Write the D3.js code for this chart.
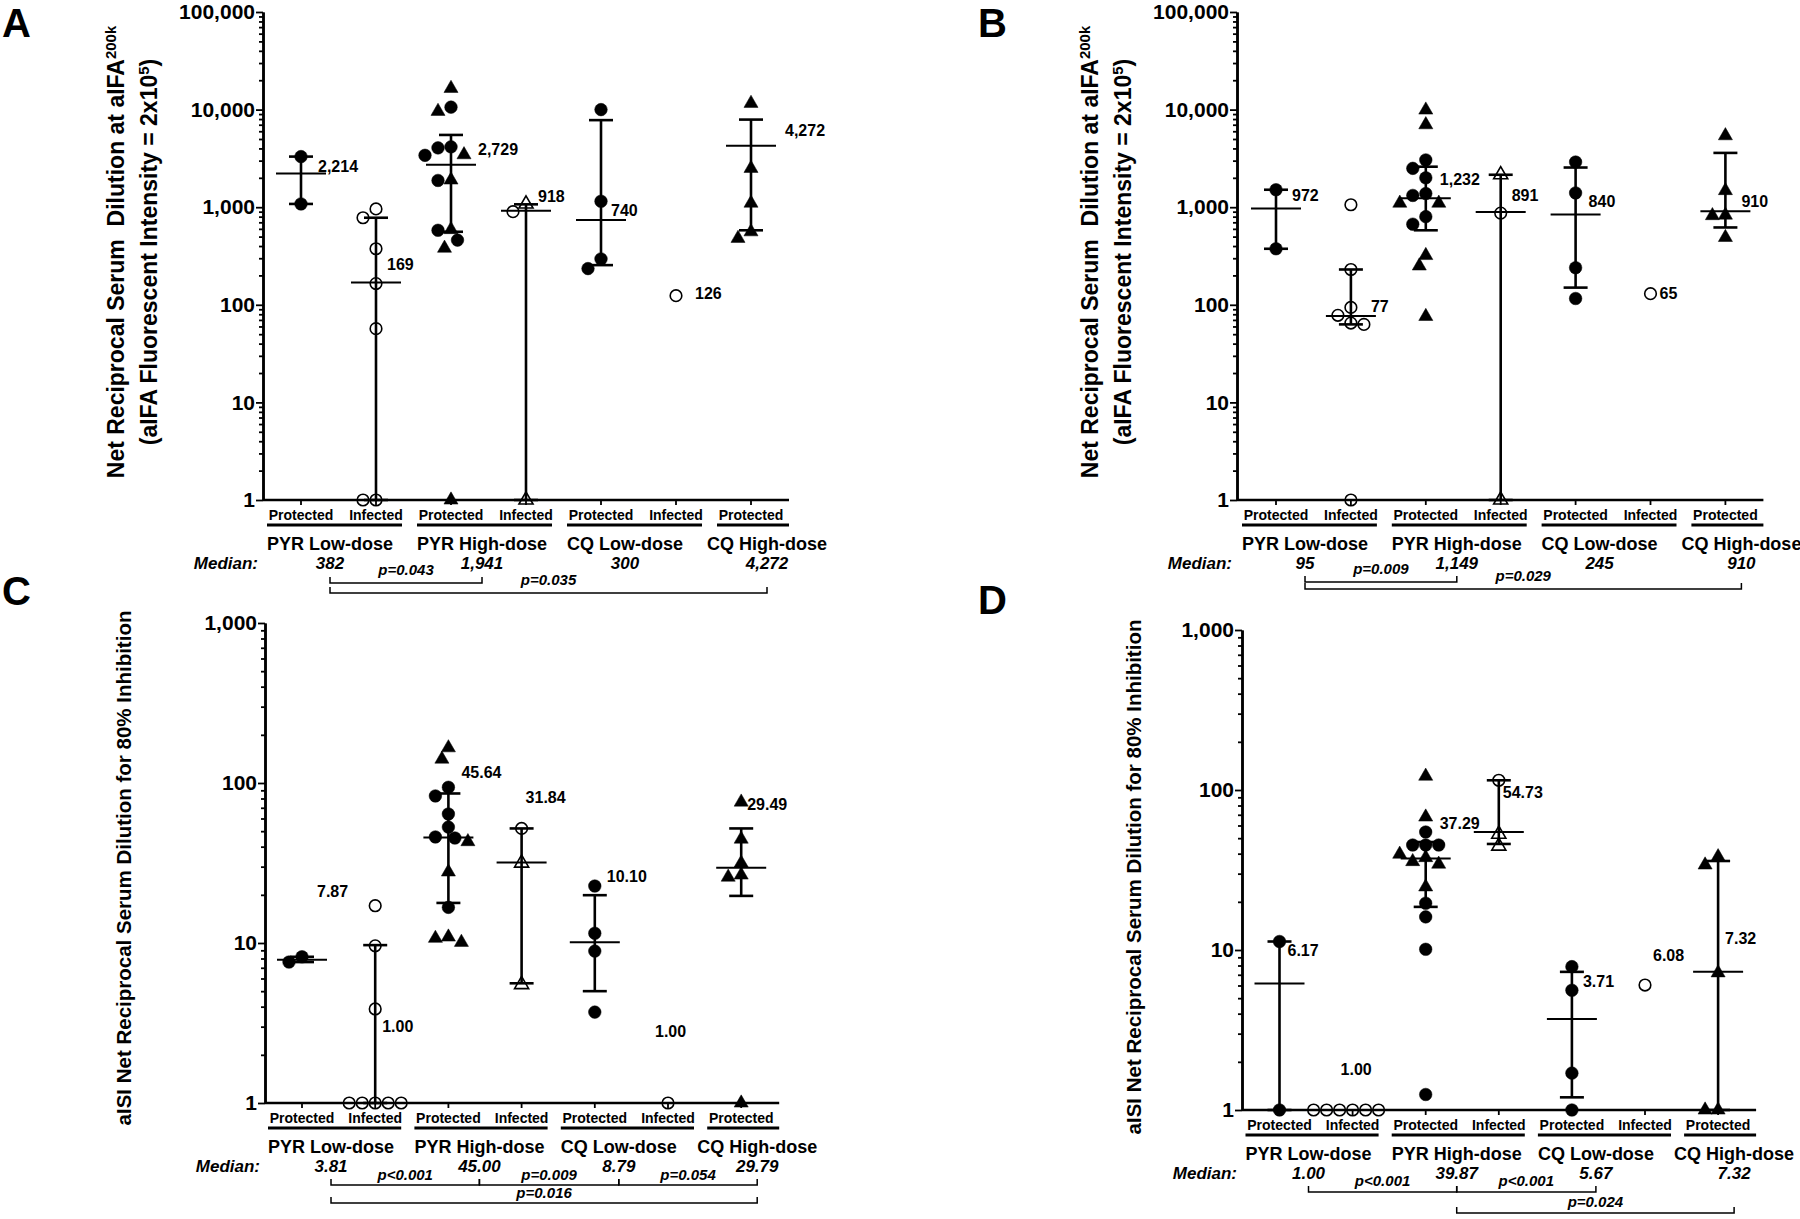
<!DOCTYPE html>
<html>
<head>
<meta charset="utf-8">
<script src="https://cdn.jsdelivr.net/npm/d3@7"></script>
<style>
  body { margin: 0; background: #fff; }
  svg { font-family: "Liberation Sans", Arial, sans-serif; font-weight: bold; }
</style>
</head>
<body>
<script>
// categories shared by the four panels
var categories = ["Protected", "Infected", "Protected", "Infected", "Protected", "Infected", "Protected"];
var groupNames = ["PYR Low-dose", "PYR High-dose", "CQ Low-dose", "CQ High-dose"];
var groupCats = [[0, 1], [2, 3], [4, 5], [6]];

// ---- panel A : aIFA, reciprocal dilution ----
var circlesA = [[3300, 1080], [960, 780, 375, 165, 57, 1, 1], [10600, 4150, 4050, 3400, 1880, 580, 460], [900], [10000, 1150, 295, 235], [124], []];
var trianglesA = [[], [], [16500, 9600, 3450, 1900, 590, 380, 1], [1080, 1], [], [], [11600, 2500, 1100, 560, 480]];
var medianA = [2214, 169, 2729, 918, 740, null, 4272];
var highA = [3300, 780, 5500, 1070, 7800, null, 7900];
var lowA = [1080, 1, 560, 1, 255, null, 580];
var labelA = ["2,214", "169", "2,729", "918", "740", "126", "4,272"];
var labelAtA = [2640, 260, 3900, 1290, 920, 131, 6120];
var labelDxA = [17, 11, 27, 12, 10, 19, 34];
var groupMedianA = ["382", "1,941", "300", "4,272"];
var pvalA = [[0, 1, "p=0.043", 1], [0, 3, "p=0.035", 2]];

// ---- panel B ----
var circlesB = [[1510, 375], [1060, 230, 94, 78, 65, 63, 1], [3050, 2500, 2000, 1380, 1320, 800, 670], [870], [2900, 1400, 240, 116], [130], []];
var trianglesB = [[], [], [9900, 7000, 1100, 1100, 320, 250, 76], [2150, 1], [], [], [5400, 1480, 830, 820, 490]];
var medianB = [972, 77, 1232, 891, 840, null, 910];
var highB = [1510, 230, 2600, 2150, 2550, null, 3600];
var lowB = [375, 63, 580, 1, 150, null, 620];
var labelB = ["972", "77", "1,232", "891", "840", "65", "910"];
var labelAtB = [1310, 96, 1930, 1310, 1156, 130, 1156];
var labelDxB = [16, 20, 14, 11, 13, 9, 16];
var groupMedianB = ["95", "1,149", "245", "910"];
var pvalB = [[0, 1, "p=0.009", 1], [0, 3, "p=0.029", 2]];

// ---- panel C : aISI 80% inhibition ----
var circlesC = [[8.2, 7.6], [17.1, 9.6, 3.87, 1, 1, 1, 1, 1], [94, 83, 64, 53, 46, 45.3, 16.7], [52], [22.7, 11.5, 8.9, 3.7], [1], []];
var trianglesC = [[], [], [166, 141, 43, 27.8, 10.9, 10.7, 10.1], [31.6, 5.5], [], [], [76, 44.6, 31.6, 26.6, 25.8, 1]];
var medianC = [7.87, 1, 45.64, 31.84, 10.10, null, 29.49];
var highC = [8.2, 9.7, 86, 52, 19.9, null, 52];
var lowC = [7.6, 1, 17.8, 5.6, 5.0, null, 19.7];
var labelC = ["7.87", "1.00", "45.64", "31.84", "10.10", "1.00", "29.49"];
var labelAtC = [21, 3.0, 117, 81, 26, 2.8, 74];
var labelDxC = [15, 7, 13, 4, 12, -13, 6];
var groupMedianC = ["3.81", "45.00", "8.79", "29.79"];
var pvalC = [[0, 1, "p<0.001", 1], [1, 2, "p=0.009", 1], [2, 3, "p=0.054", 1], [0, 3, "p=0.016", 2]];

// ---- panel D ----
var circlesD = [[11.3, 1], [1, 1, 1, 1, 1, 1], [54.6, 45.3, 45.3, 45.3, 19.6, 16.1, 10.1, 1.25], [115], [7.87, 5.6, 1.7, 1], [6.04], []];
var trianglesD = [[], [], [122, 67.8, 39.7, 37.8, 35.7, 34.4, 24.8], [53, 44.6], [], [], [38.3, 34, 7.2, 1, 1]];
var medianD = [6.17, 1, 37.29, 54.73, 3.71, null, 7.32];
var highD = [11.3, null, 47.3, 115, 7.3, null, 36];
var lowD = [1, null, 18.6, 46, 1.2, null, 1];
var labelD = ["6.17", "1.00", "37.29", "54.73", "3.71", "6.08", "7.32"];
var labelAtD = [10, 1.8, 62, 96, 6.4, 9.3, 11.9];
var labelDxD = [8, -12, 14, 4, 11, 8, 7];
var groupMedianD = ["1.00", "39.87", "5.67", "7.32"];
var pvalD = [[0, 1, "p<0.001", 1], [1, 2, "p<0.001", 1], [1, 3, "p=0.024", 2]];

var svg = d3.select("body").append("svg")
    .attr("width", 1800)
    .attr("height", 1219);

var tri = d3.symbol().type(d3.symbolTriangle).size(86);
var S = 13; // minimum distance between markers in a column

// simple beeswarm : each point takes the nearest free horizontal slot
function swarm(points, y) {
    var placed = [];
    points.slice().sort(function(a, b) { return b.v - a.v; }).forEach(function(p) {
        var py = y(p.v);
        for (var k = 0; k < 40; k++) {
            var m = Math.ceil(k / 2);
            var off = (k % 2 === 1 ? -m : m) * S / 2;
            var ok = placed.every(function(q) { return Math.hypot(q.dx - off, q.py - py) >= S * 0.92; });
            if (ok) { placed.push({v: p.v, shape: p.shape, dx: off, py: py}); break; }
        }
    });
    return placed;
}

function drawPanel(cfg) {
    var g = svg.append("g");
    var y = d3.scaleLog().domain([1, cfg.yMax]).range([cfg.yBottom, cfg.yTop]);
    var x = d3.scaleLinear().domain([0, 6]).range([cfg.x0, cfg.x0 + 6 * cfg.step]);
    var xEnd = x(6) + 38;

    // y axis, majors and minors
    var decades = d3.range(0, Math.round(Math.log10(cfg.yMax)) + 1).map(function(e) { return Math.pow(10, e); });
    var minors = [];
    decades.slice(0, -1).forEach(function(d) { for (var k = 2; k < 10; k++) minors.push(d * k); });

    var minorAxis = g.append("g").attr("transform", "translate(" + cfg.axisX + ",0)")
        .call(d3.axisLeft(y).tickValues(minors).tickSize(4).tickSizeOuter(0).tickFormat(""));
    var majorAxis = g.append("g").attr("transform", "translate(" + cfg.axisX + ",0)")
        .call(d3.axisLeft(y).tickValues(decades).tickSize(7).tickSizeOuter(0).tickPadding(1).tickFormat(d3.format(",")));
    [minorAxis, majorAxis].forEach(function(a) {
        a.attr("font-family", null).attr("font-size", 21);
        a.select(".domain").attr("stroke-width", 2.5);
        a.selectAll(".tick line").attr("stroke-width", 1.8);
    });
    majorAxis.selectAll("text").attr("font-weight", "bold").attr("fill", "#000");

    // x axis
    g.append("line").attr("x1", cfg.axisX).attr("x2", xEnd)
        .attr("y1", cfg.yBottom).attr("y2", cfg.yBottom)
        .attr("stroke", "#000").attr("stroke-width", 2.5);
    g.selectAll(".xtick").data(categories).enter().append("line")
        .attr("x1", function(d, i) { return x(i); }).attr("x2", function(d, i) { return x(i); })
        .attr("y1", cfg.yBottom).attr("y2", cfg.yBottom + 5)
        .attr("stroke", "#000").attr("stroke-width", 1.8);
    g.selectAll(".xlab").data(categories).enter().append("text")
        .attr("x", function(d, i) { return x(i); })
        .attr("y", cfg.yBottom + 20)
        .attr("text-anchor", "middle").attr("font-size", 14)
        .text(function(d) { return d; });

    // points
    for (var i = 0; i < 7; i++) {
        var open = categories[i] === "Infected";
        var pts = cfg.circles[i].map(function(v) { return {v: v, shape: "c"}; })
            .concat(cfg.triangles[i].map(function(v) { return {v: v, shape: "t"}; }));
        var cx = x(i);
        swarm(pts, y).forEach(function(p) {
            if (p.shape === "c") {
                g.append("circle").attr("cx", cx + p.dx).attr("cy", p.py).attr("r", open ? 5.8 : 6.3)
                    .attr("fill", open ? "none" : "#000").attr("stroke", "#000").attr("stroke-width", open ? 1.6 : 0.5);
            } else {
                g.append("path").attr("d", tri).attr("transform", "translate(" + (cx + p.dx) + "," + p.py + ")")
                    .attr("fill", open ? "none" : "#000").attr("stroke", "#000").attr("stroke-width", open ? 1.6 : 0.5);
            }
        });

        // median with range
        if (cfg.median[i] != null) {
            g.append("line").attr("x1", cx - 25).attr("x2", cx + 25)
                .attr("y1", y(cfg.median[i])).attr("y2", y(cfg.median[i]))
                .attr("stroke", "#000").attr("stroke-width", 2);
        }
        if (cfg.high[i] != null) {
            g.append("line").attr("x1", cx).attr("x2", cx)
                .attr("y1", y(cfg.high[i])).attr("y2", y(cfg.low[i]))
                .attr("stroke", "#000").attr("stroke-width", 2.6);
            [cfg.high[i], cfg.low[i]].forEach(function(v) {
                g.append("line").attr("x1", cx - 12).attr("x2", cx + 12)
                    .attr("y1", y(v)).attr("y2", y(v))
                    .attr("stroke", "#000").attr("stroke-width", 2.6);
            });
        }

        g.append("text").attr("x", cx + cfg.labelDx[i]).attr("y", y(cfg.labelAt[i]))
            .attr("dy", "0.35em").attr("font-size", 16).text(cfg.labels[i]);
    }

    // group bars and names
    var centers = [];
    groupCats.forEach(function(cs, gi) {
        var first = cs[0], last = cs[cs.length - 1];
        var x1 = x(first) - 34;
        var x2 = categories[last] === "Infected" ? x(last) + 26 : xEnd;
        g.append("line").attr("x1", x1).attr("x2", x2)
            .attr("y1", cfg.yBottom + 25).attr("y2", cfg.yBottom + 25)
            .attr("stroke", "#000").attr("stroke-width", 3);
        var tx = gi === 3 ? x1 - 10 : x1;
        var t = g.append("text").attr("x", tx).attr("y", cfg.yBottom + 50)
            .attr("font-size", 18).text(groupNames[gi]);
        centers.push(tx + t.node().getComputedTextLength() / 2);
    });

    // median row
    g.append("text").attr("x", cfg.axisX - 5).attr("y", cfg.yBottom + 69)
        .attr("text-anchor", "end").attr("font-size", 17).attr("font-style", "italic")
        .text("Median:");
    cfg.groupMedian.forEach(function(m, gi) {
        g.append("text").attr("x", centers[gi]).attr("y", cfg.yBottom + 69)
            .attr("text-anchor", "middle").attr("font-size", 17).attr("font-style", "italic")
            .text(m);
    });

    // comparison brackets
    cfg.pvals.forEach(function(p) {
        var yb = cfg.yBottom + cfg.bracketY[p[3] - 1];
        var xa = centers[p[0]], xb = centers[p[1]];
        g.append("path").attr("d", "M" + xa + "," + (yb - 6) + "V" + yb + "H" + xb + "V" + (yb - 6))
            .attr("fill", "none").attr("stroke", "#000").attr("stroke-width", 1.5);
        g.append("text").attr("x", (xa + xb) / 2).attr("y", yb + cfg.pDy)
            .attr("dy", "0.35em").attr("text-anchor", "middle")
            .attr("font-size", 15).attr("font-style", "italic").text(p[2]);
    });

    // axis title
    cfg.title.forEach(function(line, li) {
        var t = g.append("text")
            .attr("transform", "translate(" + cfg.titleX[li] + "," + cfg.titleY + ") rotate(-90)")
            .attr("text-anchor", "middle").attr("dy", "0.35em")
            .attr("font-size", cfg.titleSize)
            .style("white-space", "pre");
        line.forEach(function(part) {
            var s = t.append("tspan").text(part[0]);
            if (part[1] === "sup") s.attr("dy", "-0.55em").attr("font-size", "0.65em");
            if (part[1] === "down") s.attr("dy", "0.36em");
        });
    });

    g.append("text").attr("x", cfg.letter[1]).attr("y", cfg.letter[2])
        .attr("font-size", 40).text(cfg.letter[0]);
}

var titleIFA = [
    [["Net Reciprocal Serum  Dilution at aIFA"], ["200k", "sup"]],
    [["(aIFA Fluorescent Intensity = 2x10"], ["5", "sup"], [")", "down"]]
];
var titleISI = [[["aISI Net Reciprocal Serum Dilution for 80% Inhibition"]]];

drawPanel({
    circles: circlesA, triangles: trianglesA, median: medianA, high: highA, low: lowA,
    labels: labelA, labelAt: labelAtA, labelDx: labelDxA, groupMedian: groupMedianA, pvals: pvalA,
    yMax: 100000, axisX: 263, yTop: 12, yBottom: 500, x0: 301, step: 75,
    bracketY: [83, 93], pDy: -13,
    title: titleIFA, titleX: [116, 149], titleY: 252, titleSize: 23, letter: ["A", 2, 37]
});
drawPanel({
    circles: circlesB, triangles: trianglesB, median: medianB, high: highB, low: lowB,
    labels: labelB, labelAt: labelAtB, labelDx: labelDxB, groupMedian: groupMedianB, pvals: pvalB,
    yMax: 100000, axisX: 1237, yTop: 12, yBottom: 500, x0: 1276, step: 74.9,
    bracketY: [82, 89], pDy: -13,
    title: titleIFA, titleX: [1090, 1123], titleY: 252, titleSize: 23, letter: ["B", 978, 37]
});
drawPanel({
    circles: circlesC, triangles: trianglesC, median: medianC, high: highC, low: lowC,
    labels: labelC, labelAt: labelAtC, labelDx: labelDxC, groupMedian: groupMedianC, pvals: pvalC,
    yMax: 1000, axisX: 265, yTop: 623, yBottom: 1103, x0: 302, step: 73.2,
    bracketY: [82, 100], pDy: -10,
    title: titleISI, titleX: [124], titleY: 868, titleSize: 20.5, letter: ["C", 2, 605]
});
drawPanel({
    circles: circlesD, triangles: trianglesD, median: medianD, high: highD, low: lowD,
    labels: labelD, labelAt: labelAtD, labelDx: labelDxD, groupMedian: groupMedianD, pvals: pvalD,
    yMax: 1000, axisX: 1242, yTop: 630, yBottom: 1110, x0: 1279.5, step: 73.1,
    bracketY: [82, 103], pDy: -11,
    title: titleISI, titleX: [1134], titleY: 877, titleSize: 20.5, letter: ["D", 978, 614]
});
</script>
</body>
</html>
